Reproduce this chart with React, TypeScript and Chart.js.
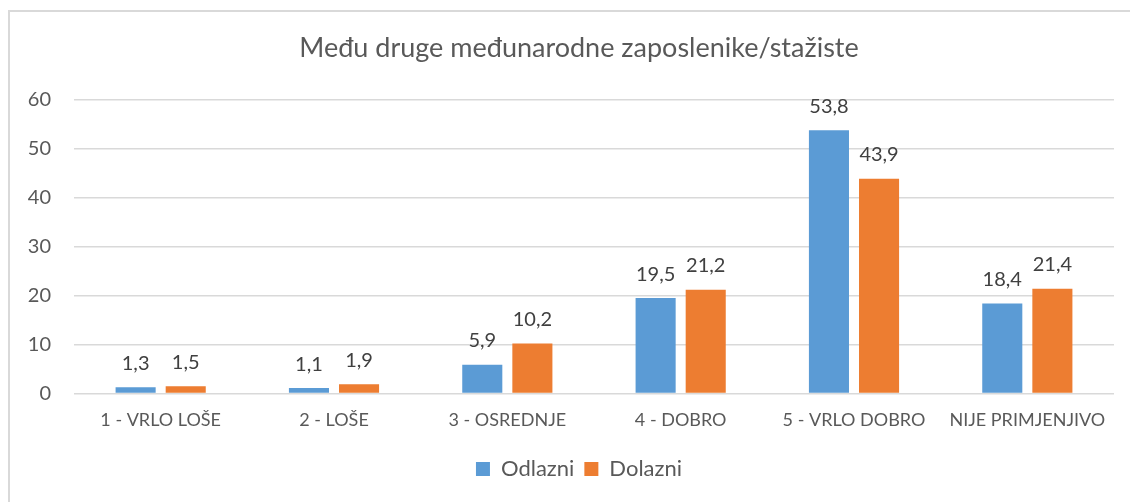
import React, { useEffect, useRef } from 'react';
import { Chart, registerables } from 'chart.js';

Chart.register(...registerables);

const FONT = 'Lato, "Open Sans", sans-serif';

const title = 'Među druge međunarodne zaposlenike/stažiste';
const categories = ['1 - VRLO LOŠE', '2 - LOŠE', '3 - OSREDNJE', '4 - DOBRO', '5 - VRLO DOBRO', 'NIJE PRIMJENJIVO'];
const seriesNames = ['Odlazni', 'Dolazni'];
const odlazni = [1.3, 1.1, 5.9, 19.5, 53.8, 18.4];
const dolazni = [1.5, 1.9, 10.2, 21.2, 43.9, 21.4];
const yMin = 0;
const yMax = 60;
const yStep = 10;

const BLUE = '#5B9BD5';
const ORANGE = '#ED7D31';

const dataLabels = {
  id: 'dataLabels',
  afterDatasetsDraw(chart: any) {
    const ctx = chart.ctx;
    ctx.save();
    ctx.font = `20px ${FONT}`;
    ctx.fillStyle = '#404040';
    ctx.textAlign = 'center';
    ctx.textBaseline = 'middle';
    chart.data.datasets.forEach((ds: any, i: number) => {
      const meta = chart.getDatasetMeta(i);
      meta.data.forEach((el: any, j: number) => {
        const v = ds.data[j];
        ctx.fillText(String(v).replace('.', ','), el.x, el.y - 24);
      });
    });
    ctx.restore();
  },
};

// the source frame is wider than the window, so title and legend sit right of the canvas centre
const shiftBlocks = {
  id: 'shiftBlocks',
  afterLayout(chart: any) {
    const blocks = [chart.titleBlock, chart.legend];
    blocks.forEach((b: any) => {
      if (b) {
        b.left += 17;
        b.right += 17;
      }
    });
  },
};

export default function App() {
  const ref = useRef<HTMLCanvasElement>(null);
  useEffect(() => {
    if (!ref.current) return;
    const chart = new Chart(ref.current, {
      type: 'bar',
      data: {
        labels: categories,
        datasets: [
          { label: seriesNames[0], data: odlazni, backgroundColor: BLUE, categoryPercentage: 0.578, barPercentage: 0.8 },
          { label: seriesNames[1], data: dolazni, backgroundColor: ORANGE, categoryPercentage: 0.578, barPercentage: 0.8 },
        ],
      },
      options: {
        responsive: false,
        animation: false,
        layout: { padding: { left: 0, right: 17, top: 0, bottom: 2 } },
        plugins: {
          title: {
            display: true,
            text: title,
            color: '#595959',
            font: { family: FONT, size: 27, weight: 'normal' },
            padding: { top: 19.8, bottom: 35.8 },
          },
          legend: {
            position: 'bottom',
            labels: {
              color: '#595959',
              font: { family: FONT, size: 22 },
              boxWidth: 14,
              boxHeight: 14,
              padding: 10,
            },
          },
          tooltip: { enabled: false },
        },
        scales: {
          x: {
            grid: { display: false, drawTicks: false },
            border: { display: false },
            ticks: { color: '#595959', font: { family: FONT, size: 18 }, padding: 16, maxRotation: 0, autoSkip: false },
            afterFit: (s: any) => { s.height = 54.5; },
          },
          y: {
            min: yMin,
            max: yMax,
            grid: { color: '#d9d9d9', lineWidth: 1.5, drawTicks: false },
            border: { display: false },
            ticks: { stepSize: yStep, color: '#595959', font: { family: FONT, size: 20 }, padding: 23 },
            afterFit: (s: any) => { s.width = 64; },
          },
        },
      },
      plugins: [dataLabels, shiftBlocks],
    });
    return () => chart.destroy();
  }, []);
  return (
    <div style={{ position: 'absolute', left: 8, top: 10, width: 1200, height: 600, border: '2px solid #d9d9d9', boxSizing: 'border-box', background: '#fff' }}>
      <canvas ref={ref} width={1121} height={480} style={{ position: 'absolute', left: 0, top: 0 }} />
    </div>
  );
}
